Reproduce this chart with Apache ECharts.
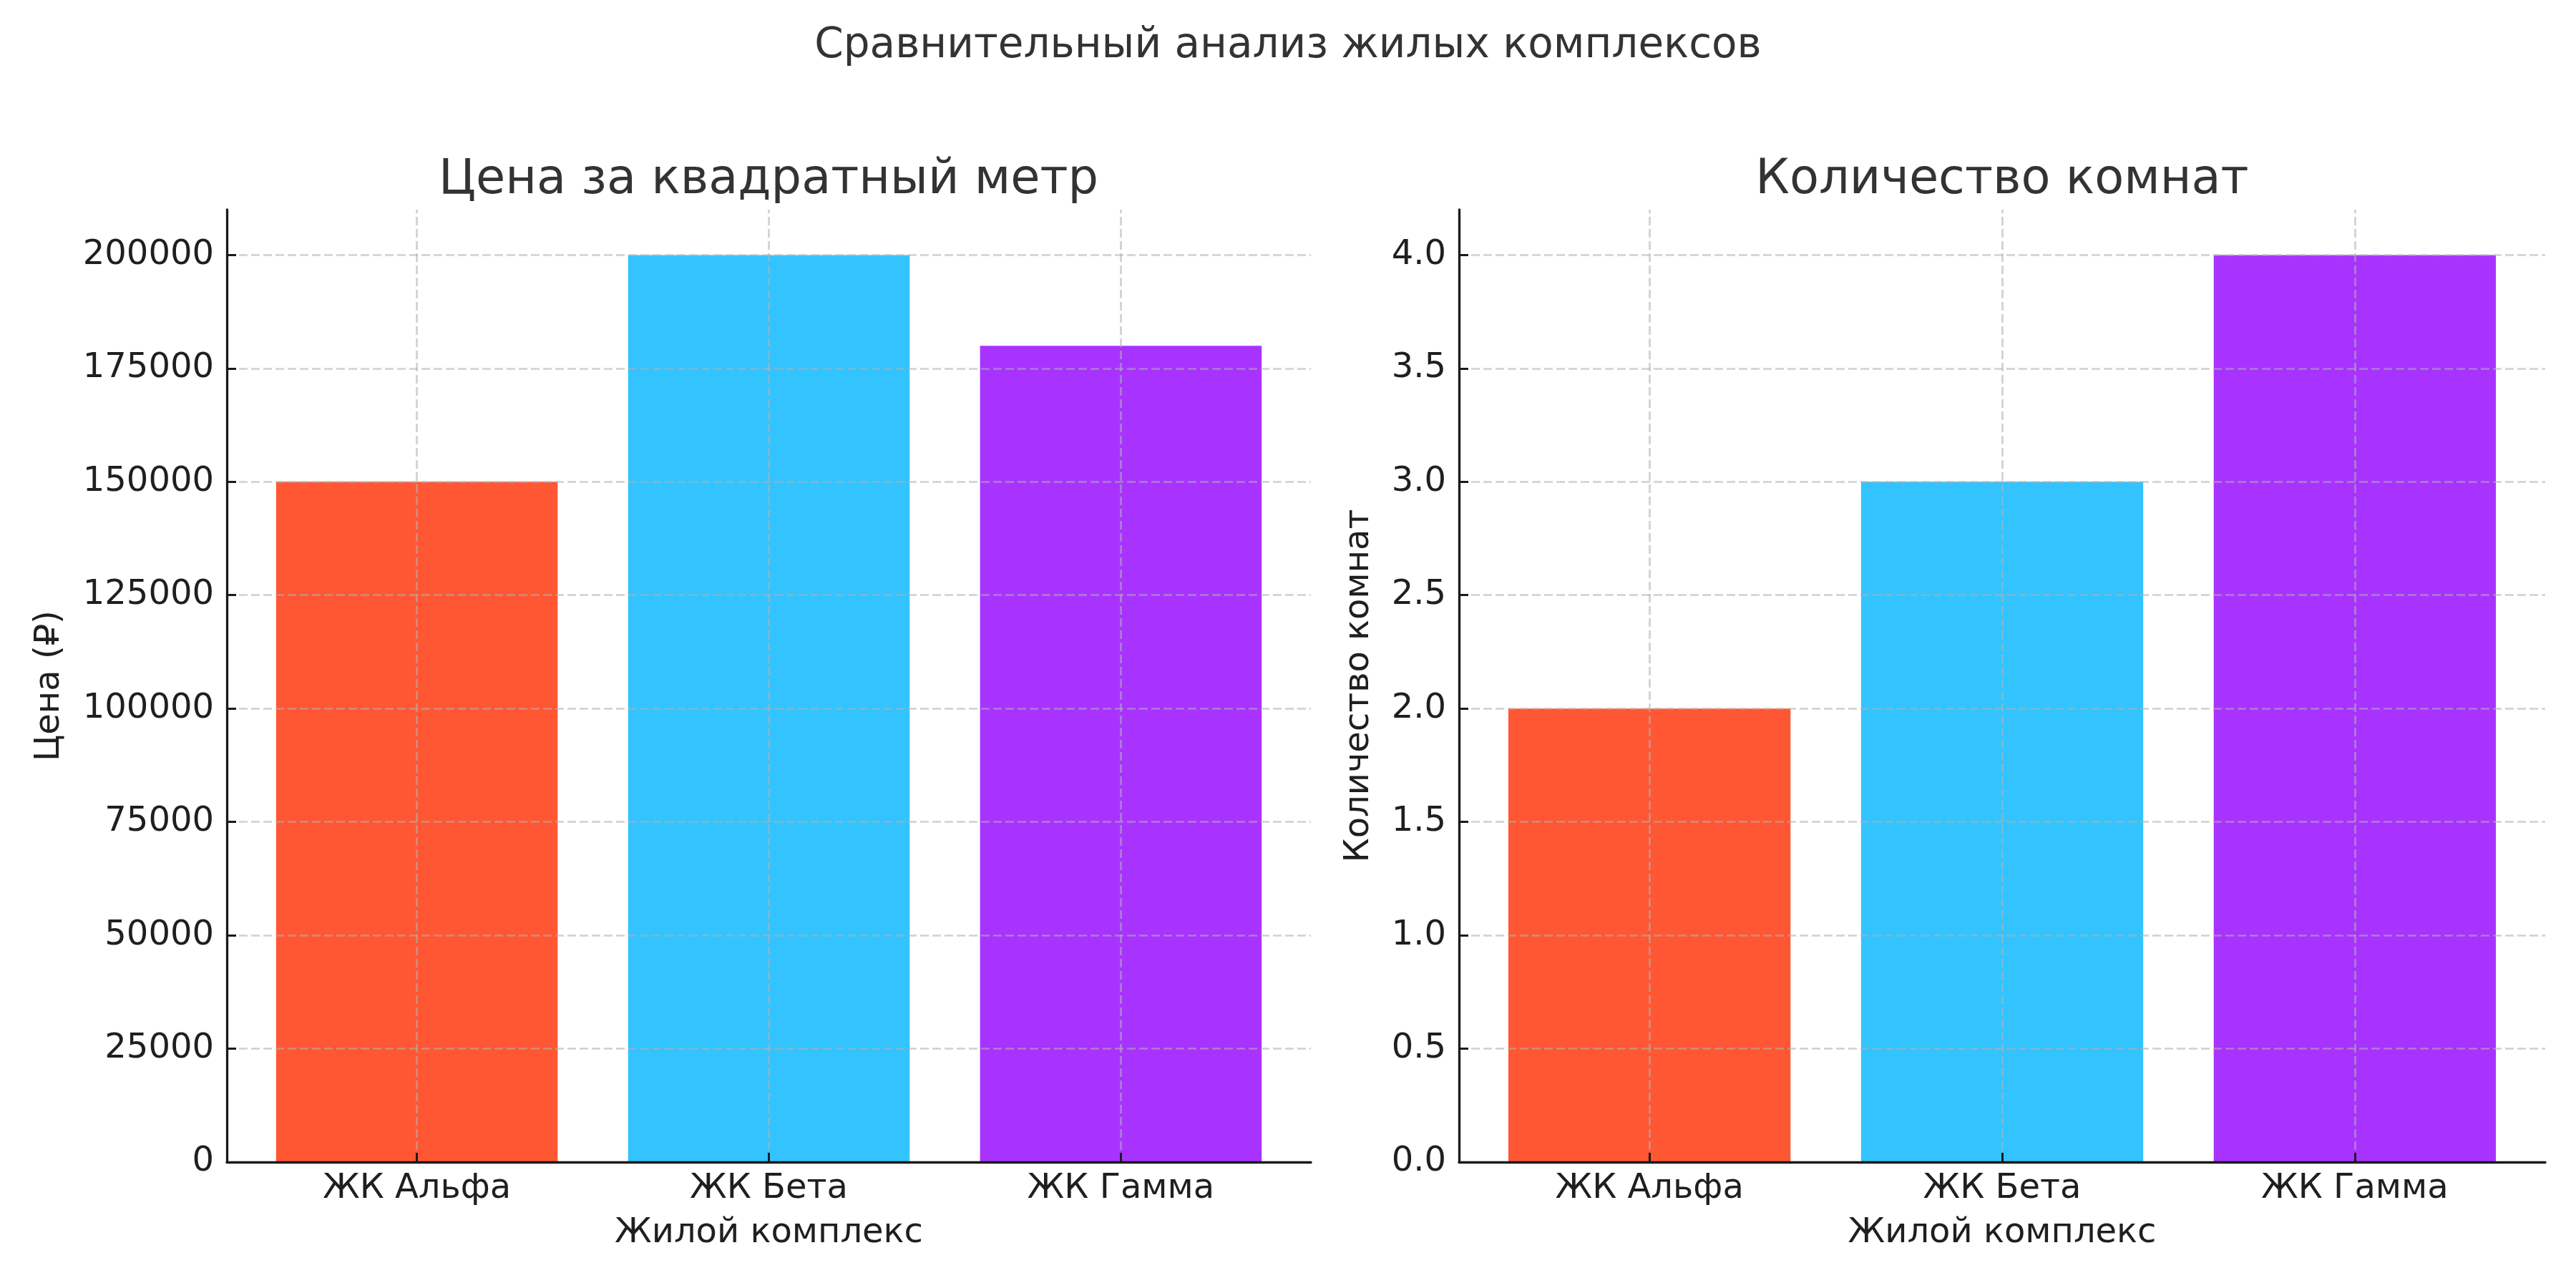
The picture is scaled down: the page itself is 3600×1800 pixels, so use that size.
<!DOCTYPE html>
<html>
<head>
<meta charset="utf-8">
<script src="https://cdn.jsdelivr.net/npm/echarts@6/dist/echarts.min.js"></script>
<style>
  html, body { margin: 0; padding: 0; background: #fff; }
  #chart { width: 3600px; height: 1800px; }
</style>
</head>
<body>
<div id="chart"></div>
<script>
// данные
const categories = ['ЖК Альфа', 'ЖК Бета', 'ЖК Гамма']
const prices = [150000, 200000, 180000]
const rooms = [2, 3, 4]
const barColors = ['#FF5733', '#33C4FF', '#A833FF']
const priceTicks = [0, 25000, 50000, 75000, 100000, 125000, 150000, 175000, 200000]
const roomTicks = [0, 0.5, 1.0, 1.5, 2.0, 2.5, 3.0, 3.5, 4.0]

const font = 'DejaVu Sans'
const textColor = '#1f1f1f'
const gridLine = { color: 'rgba(176,176,176,0.6)', width: 2.7, type: [12, 5] }

const xMin = -0.54
const xMax = 2.54
const catIdx = categories.map((c, i) => i)

const grids = [
  { left: 317, top: 293, width: 1515, height: 1331 },
  { left: 2039, top: 293, width: 1518, height: 1331 }
]

const makeX = (gi) => ({
  type: 'value',
  gridIndex: gi,
  min: xMin,
  max: xMax,
  z: 10,
  name: 'Жилой комплекс',
  nameLocation: 'middle',
  nameGap: 76,
  nameTextStyle: { fontFamily: font, fontSize: 48, color: textColor },
  axisLine: { show: true, onZero: false, lineStyle: { color: '#1a1a1a', width: 3.3 } },
  axisTick: { show: true, inside: true, length: 13, lineStyle: { color: '#1a1a1a', width: 3 }, customValues: catIdx },
  axisLabel: {
    customValues: catIdx,
    margin: 14,
    fontFamily: font,
    fontSize: 48,
    color: textColor,
    formatter: (v) => categories[Math.round(v)]
  },
  splitLine: { show: false }
})

const makeY = (gi, name, max, ticks, fmt, gap) => ({
  type: 'value',
  gridIndex: gi,
  min: 0,
  max: max,
  z: 10,
  name: name,
  nameLocation: 'middle',
  nameGap: gap,
  nameTextStyle: { fontFamily: font, fontSize: 48, color: textColor },
  axisLine: { show: true, onZero: false, lineStyle: { color: '#1a1a1a', width: 3.3 } },
  axisTick: { show: true, inside: true, length: 13, lineStyle: { color: '#1a1a1a', width: 3 }, customValues: ticks },
  axisLabel: { customValues: ticks, margin: 18, fontFamily: font, fontSize: 48, color: textColor, formatter: fmt },
  splitLine: { show: false }
})

const makeSeries = (gi, values, ticks) => {
  const g = grids[gi]
  const barW = 0.8 * g.width / (xMax - xMin)
  return {
    type: 'bar',
    xAxisIndex: gi,
    yAxisIndex: gi,
    barWidth: barW,
    animation: false,
    data: values.map((v, i) => ({ value: [i, v], itemStyle: { color: barColors[i] } })),
    markLine: {
      silent: true,
      symbol: 'none',
      animation: false,
      label: { show: false },
      lineStyle: gridLine,
      emphasis: { disabled: true },
      data: catIdx.map((i) => ({ xAxis: i }))
        .concat(ticks.filter((t) => t > 0).map((t) => ({ yAxis: t })))
    }
  }
}

const chart = echarts.init(document.getElementById('chart'))
chart.setOption({
  backgroundColor: '#fff',
  animation: false,
  title: [
    {
      text: 'Сравнительный анализ жилых комплексов',
      left: 1800, top: 36, textAlign: 'center', padding: 0,
      textStyle: { fontFamily: font, fontSize: 58, fontWeight: 'normal', color: '#333' }
    },
    {
      text: 'Цена за квадратный метр',
      left: 1074, top: 219, textAlign: 'center', padding: 0,
      textStyle: { fontFamily: font, fontSize: 67, fontWeight: 'normal', color: '#333' }
    },
    {
      text: 'Количество комнат',
      left: 2798, top: 219, textAlign: 'center', padding: 0,
      textStyle: { fontFamily: font, fontSize: 67, fontWeight: 'normal', color: '#333' }
    }
  ],
  grid: grids,
  xAxis: [makeX(0), makeX(1)],
  yAxis: [
    makeY(0, 'Цена (₽)', 210000, priceTicks, (v) => String(v), 223),
    makeY(1, 'Количество комнат', 4.2, roomTicks, (v) => v.toFixed(1), 115)
  ],
  series: [makeSeries(0, prices, priceTicks), makeSeries(1, rooms, roomTicks)]
})
</script>
</body>
</html>
